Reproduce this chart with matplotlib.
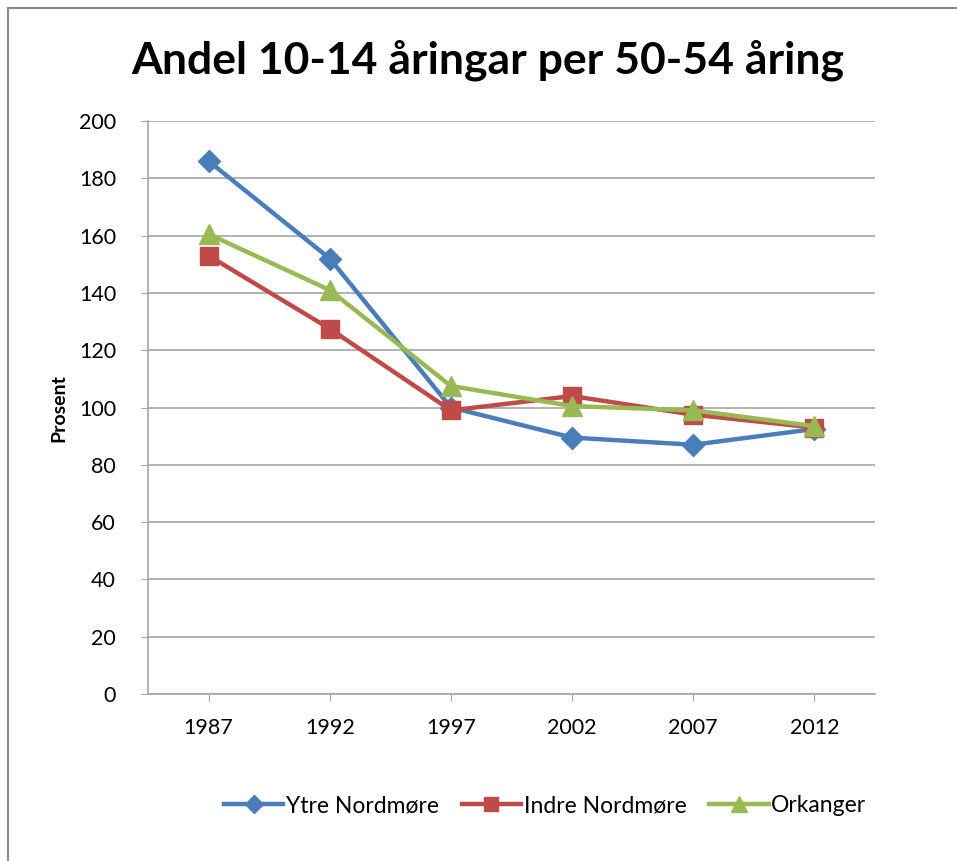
import matplotlib
matplotlib.use("Agg")
import matplotlib.pyplot as plt
from matplotlib.patches import Rectangle

# data
years = ["1987", "1992", "1997", "2002", "2007", "2012"]
ytre = [186, 152, 100, 89.5, 87, 92.5]
indre = [153, 127.5, 99, 104, 97.5, 93]
orkanger = [160.5, 141, 107.5, 100.5, 99, 93.5]
yticks = [0, 20, 40, 60, 80, 100, 120, 140, 160, 180, 200]

plt.rcParams['font.family'] = ['Lato', 'DejaVu Sans']

fig = plt.figure(figsize=(9.57, 8.61), dpi=100)
W, H = 957, 861
ax = fig.add_axes([148 / W, 1 - 694 / H, (875 - 148) / W, (694 - 121) / H])

x = list(range(len(years)))
ax.plot(x, ytre, color="#4A7EBB", lw=3.2, marker="D", ms=11, label="Ytre Nordmøre")
ax.plot(x, indre, color="#BE4B48", lw=3.2, marker="s", ms=13, label="Indre Nordmøre")
ax.plot(x, orkanger, color="#98B954", lw=3.2, marker="^", ms=14, label="Orkanger")

ax.set_xlim(-0.5, len(years) - 0.5)
ax.set_ylim(0, 200)
ax.set_yticks(yticks)
ax.set_xticks(x)
ax.set_xticklabels(years)
ax.grid(axis="y", color="#A6A6A6", lw=1.2)
ax.set_axisbelow(True)
for s in ["top", "right"]:
    ax.spines[s].set_visible(False)
for s in ["left", "bottom"]:
    ax.spines[s].set_color("#A6A6A6")
    ax.spines[s].set_linewidth(1.2)
ax.tick_params(axis="both", labelsize=15.5, colors="#A6A6A6", labelcolor="black", length=5)
ax.tick_params(axis="x", pad=12)
ax.tick_params(axis="y", pad=18)
ax.set_ylabel("Prosent", fontsize=14, fontweight="bold", labelpad=8)

fig.text(488 / W, 1 - 60 / H, "Andel 10-14 åringar per 50-54 åring", ha="center", va="center",
         fontsize=32, fontweight="bold")

ax.legend(loc="center", bbox_to_anchor=(545 / W, 1 - 806 / H), bbox_transform=fig.transFigure,
          ncol=3, frameon=False, fontsize=16.5, handlelength=2.6, columnspacing=1.0,
          handletextpad=0.1, markerscale=0.8)

fig.patches.append(Rectangle((8 / W, -0.01), 1.02, 1 - 8 / H + 0.01, transform=fig.transFigure,
                             fill=False, edgecolor="#8C8C8C", lw=1.5))

fig.savefig("out.png", dpi=100)
